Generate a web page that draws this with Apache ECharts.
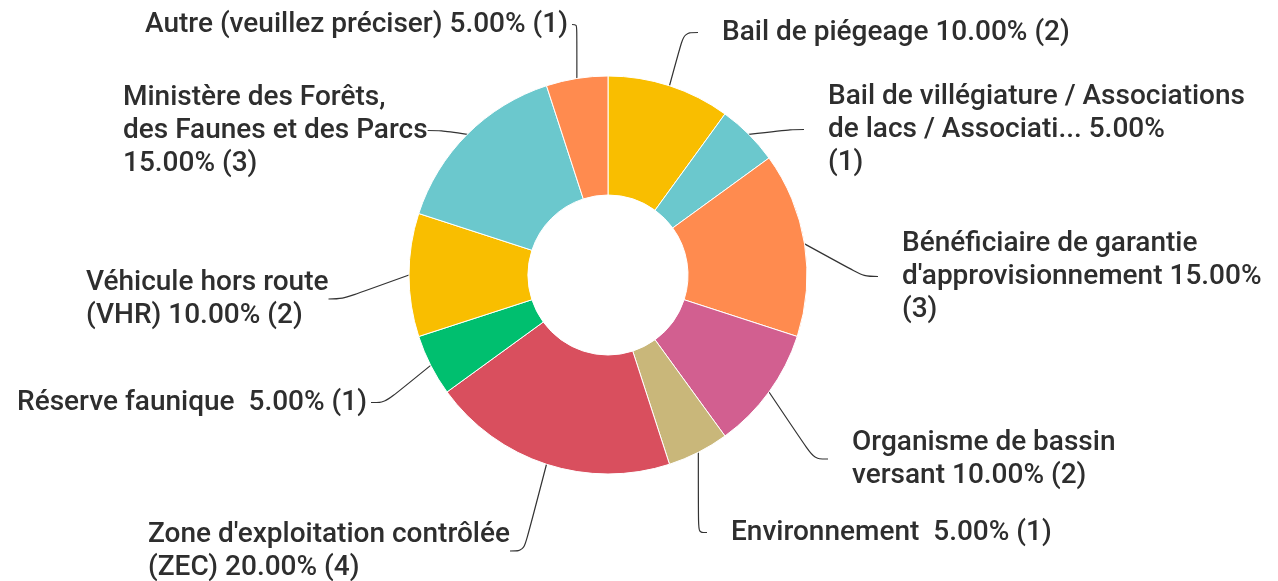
<!DOCTYPE html>
<html>
<head>
<meta charset="utf-8">
<title>Répartition</title>
<script src="https://cdn.jsdelivr.net/npm/echarts@6/dist/echarts.min.js"></script>
<style>
  html, body { margin: 0; padding: 0; background: #fff; }
  #chart { width: 1278px; height: 581px; }
</style>
</head>
<body>
<div id="chart"></div>
<script>
// categories, clockwise from 12 o'clock
const categories = [
  'Bail de piégeage',
  'Bail de villégiature / Associations\nde lacs / Associati...',
  'Bénéficiaire de garantie\nd\'approvisionnement',
  'Organisme de bassin\nversant',
  'Environnement ',
  'Zone d\'exploitation contrôlée\n(ZEC)',
  'Réserve faunique ',
  'Véhicule hors route\n(VHR)',
  'Ministère des Forêts,\ndes Faunes et des Parcs',
  'Autre (veuillez préciser)'
]
const counts = [2, 1, 3, 2, 1, 4, 1, 2, 3, 1]
const colors = ['#F9BE00', '#6BC8CD', '#FF8B4F', '#D25F90', '#C9B77A',
  '#D94F5E', '#00BF6F', '#F9BE00', '#6BC8CD', '#FF8B4F']
// separator before the percentage / before the count
const gapPct = [' ', ' ', ' ', ' ', ' ', ' ', ' ', ' ', '\n', ' ']
const gapCount = [' ', '\n', '\n', ' ', ' ', ' ', ' ', ' ', ' ', ' ']
// label text box: [x of text edge, top of first line, align]
const labelPos = [
  [722, 16, 'left'],
  [828, 80, 'left'],
  [902, 227, 'left'],
  [852, 426, 'left'],
  [731, 516, 'left'],
  [148, 518, 'left'],
  [367, 386, 'right'],
  [86, 266, 'left'],
  [123, 81, 'left'],
  [568, 8, 'right']
]
const total = counts.reduce((a, b) => a + b, 0)
const GAP = 24

let chart = echarts.init(document.getElementById('chart'), null, { renderer: 'canvas' })

let data = categories.map((name, i) => {
  let pad = labelPos[i][2] === 'left' ? [0, 0, 0, GAP] : [0, 4, 0, 0]
  return {
    name: name,
    value: counts[i],
    itemStyle: { color: colors[i] },
    label: { padding: pad }
  }
})

let option = {
  animation: false,
  series: [
    {
      type: 'pie',
      center: [608, 275],
      radius: [80, 199],
      startAngle: 90,
      clockwise: true,
      avoidLabelOverlap: false,
      itemStyle: {
        borderColor: '#fff',
        borderWidth: 1
      },
      label: {
        show: true,
        position: 'outer',
        color: '#2e2e2e',
        fontFamily: 'Roboto',
        fontSize: 28,
        fontWeight: 500,
        lineHeight: 33,
        formatter: function (p) {
          let i = p.dataIndex
          let pct = (counts[i] / total * 100).toFixed(2) + '%'
          return categories[i] + gapPct[i] + pct + gapCount[i] + '(' + counts[i] + ')'
        }
      },
      labelLine: {
        show: true,
        length: 20,
        length2: 14,
        smooth: 0.35,
        lineStyle: { color: '#333', width: 1.2 }
      },
      labelLayout: function (params) {
        let p = labelPos[params.dataIndex]
        let x = p[2] === 'left' ? p[0] - GAP : p[0] + 4
        return { x: x, y: p[1], align: p[2], verticalAlign: 'top', hideOverlap: false }
      },
      data: data
    }
  ]
}
chart.setOption(option)
</script>
</body>
</html>
